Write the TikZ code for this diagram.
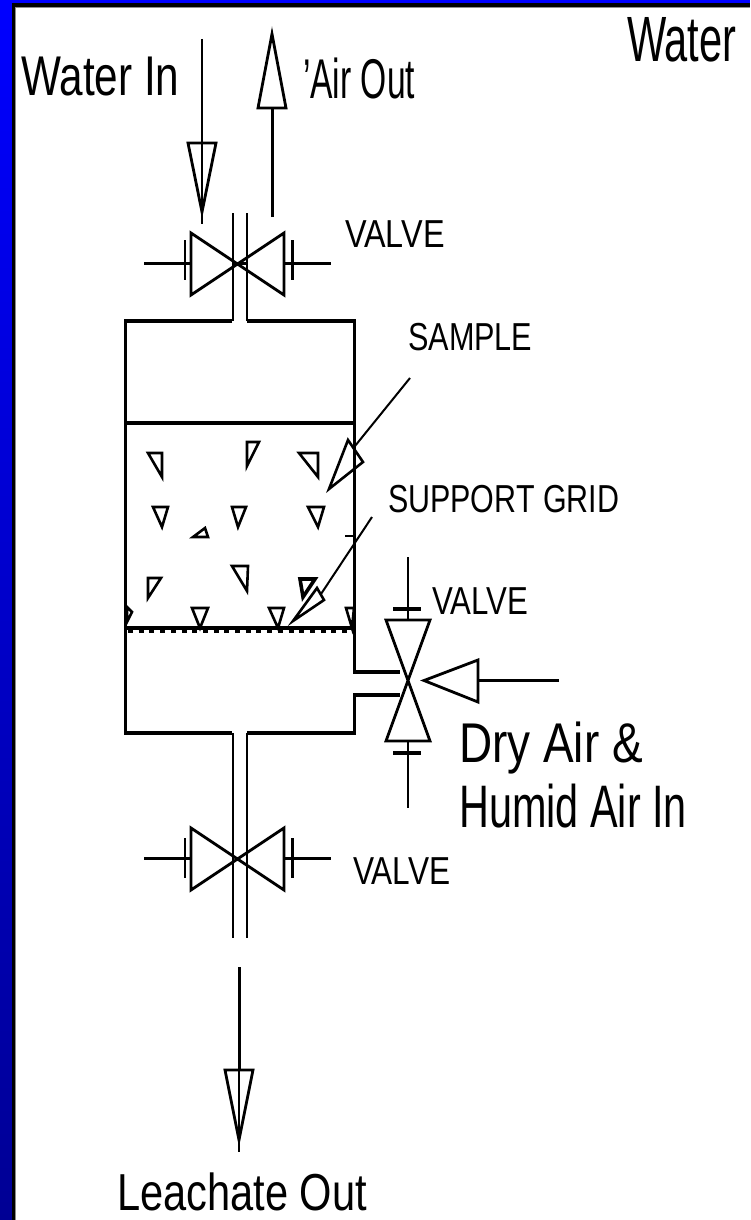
\documentclass[tikz,border=0pt]{standalone}
\usepackage{fontspec}
\setmainfont{Liberation Sans}
\usetikzlibrary{calc}
\tikzset{
 x=1pt,y=-1pt,
 pipe/.style={draw=black,line width=3.2pt},
 thin pipe/.style={draw=black,line width=2pt},
 tip/.style={draw=black,line width=2.8pt,line join=miter},
 grain/.style={draw=black,line width=2.6pt,line join=miter},
 big/.style={font=\fontsize{56}{56}\selectfont,inner sep=0pt,anchor=base west,text=black},
 small/.style={font=\fontsize{39}{39}\selectfont,inner sep=0pt,anchor=base west,text=black},
}
\begin{document}
\begin{tikzpicture}
\useasboundingbox (0,0) rectangle (750,1220);
\fill[top color=blue,bottom color=blue!58!black] (0,0) rectangle (12,1220);
\fill[blue] (0,0) rectangle (750,3);
\fill[black] (12,3) rectangle (750,1220);
\fill[black!45] (15,7) rectangle (750,1220);
\fill[white] (16,8) rectangle (750,1220);
% texts
\node[big,xscale=.755] (t1) at (21,96) {Water In};
\node[big,xscale=.60] (t2) at (303,99) {'Air Out};
\node[big,xscale=.65,font=\fontsize{64}{64}\selectfont] (t3) at (627,62) {Water};
\node[small,xscale=.83] (v1) at (345,247) {VALVE};
\node[small,xscale=.785] (s1) at (408,350) {SAMPLE};
\node[small,xscale=.78] (s2) at (388,512) {SUPPORT GRID};
\node[small,xscale=.80] (v2) at (432,614) {VALVE};
\node[big,xscale=.82,font=\fontsize{56}{56}\selectfont] (d1) at (459,762) {Dry Air \&};
\node[big,xscale=.69,font=\fontsize{60}{60}\selectfont] (d2) at (459,827) {Humid Air In};
\node[small,xscale=.81] (v3) at (353,884) {VALVE};
\node[big,xscale=.80,font=\fontsize{52}{52}\selectfont] (l1) at (117,1210) {Leachate Out};
% vessel
\draw[pipe] (232,321) -- (125.5,321) -- (125.5,733) -- (232,733);
\draw[pipe] (247,321) -- (354.5,321) -- (354.5,672) -- (400,672);
\draw[pipe] (247,733) -- (354.5,733) -- (354.5,695) -- (400,695);
\draw[thin pipe] (232.5,213) -- (232.5,321);
\draw[thin pipe] (247,213) -- (247,321);
\draw[thin pipe] (232.5,733) -- (232.5,938);
\draw[thin pipe] (247,733) -- (247,938);
\draw[pipe,line width=3.6pt] (125.5,423) -- (354.5,423);
\draw[pipe,line width=4pt] (125.5,628) -- (354.5,628);
\draw[black,line width=3.4pt,dash pattern=on 5pt off 5.7pt] (128,631.5) -- (354,631.5);
% grains
\draw[grain] (148,453) -- (162,453) -- (162,477) -- cycle;
\draw[grain] (247,442) -- (259,442) -- (247,466) -- cycle;
\draw[grain] (299,453) -- (318,453) -- (318,477) -- cycle;
\draw[grain] (153,507) -- (168,507) -- (162,527) -- cycle;
\draw[grain] (232,507) -- (246,507) -- (238,527) -- cycle;
\draw[grain] (308,507) -- (324,507) -- (318,527) -- cycle;
\draw[grain] (193,537) -- (208,537) -- (205,528) -- cycle;
\draw[grain] (232,566) -- (248,566) -- (247,591) -- cycle;
\draw[grain] (148,578) -- (161,578) -- (148,598) -- cycle;
\draw[grain,line width=3.6pt] (300,579) -- (315,579) -- (303,597) -- cycle;
\draw[grain] (192,608) -- (208,608) -- (200,628) -- cycle;
\draw[grain] (269,608) -- (284,608) -- (278,628) -- cycle;
\draw[grain] (346,608) -- (354,608) -- (352,628) -- cycle;
\draw[grain] (127,607) -- (132,612) -- (127,622) -- cycle;
% arrows pointing at sample and grid
\coordinate (sa) at (410,378);
\coordinate (sb) at (355,446);
\draw[black,line width=2pt] (sa) -- (sb);
\draw[grain] (348,440) -- (329,489) -- (363,462) -- cycle;
\coordinate (ga) at (372,517);
\coordinate (gb) at (321,594);
\draw[black,line width=2pt] (ga) -- (gb);
\draw[grain] (317,588) -- (293,621) -- (324,600) -- cycle;
\draw[black,line width=2.6pt] (345,536) -- (354,536);
% top valve
\draw[tip] (191,233) -- (191,295) -- (284,233) -- (284,295) -- cycle;
\draw[pipe] (144,263.5) -- (191,263.5);
\draw[pipe] (284,263.5) -- (331,263.5);
\draw[thin pipe] (185,240) -- (185,280);
\draw[pipe] (292.5,240) -- (292.5,280);
\draw[pipe] (232,263.5) -- (247,263.5);
% bottom valve
\draw[tip] (191,828) -- (191,890) -- (284,828) -- (284,890) -- cycle;
\draw[pipe] (144,858.5) -- (191,858.5);
\draw[pipe] (284,858.5) -- (331,858.5);
\draw[thin pipe] (185,838) -- (185,878);
\draw[pipe] (292.5,838) -- (292.5,878);
% side valve
\draw[tip] (386,620) -- (430,620) -- (386,741) -- (430,741) -- cycle;
\draw[tip] (408,557) -- (408,620);
\draw[tip] (408,741) -- (408,808);
\draw[pipe] (393,609) -- (421,609);
\draw[pipe] (393,753) -- (421,753);
% water-in arrow
\coordinate (wa) at (202,39);
\coordinate (wb) at (202,224);
\draw[black,line width=2pt] (wa) -- (wb);
\draw[tip] (188,143) -- (216,143) -- (202,212) -- cycle;
% air-out arrow
\coordinate (ab) at (272,217);
\draw[black,line width=3pt] (ab) -- (272,108);
\draw[tip] (258,108) -- (286,108) -- (272,34) -- cycle;
% dry air arrow
\coordinate (da) at (559,680.5);
\draw[pipe] (da) -- (478,680.5);
\draw[tip] (478,660) -- (478,702) -- (424,680.5) -- cycle;
% leachate arrow
\coordinate (la) at (239,967);
\draw[black,line width=3pt] (la) -- (239,1070);
\draw[tip] (225,1070) -- (253,1070) -- (239,1140) -- cycle;
\draw[black,line width=2.6pt] (239,1070) -- (239,1152);
\end{tikzpicture}
\end{document}
